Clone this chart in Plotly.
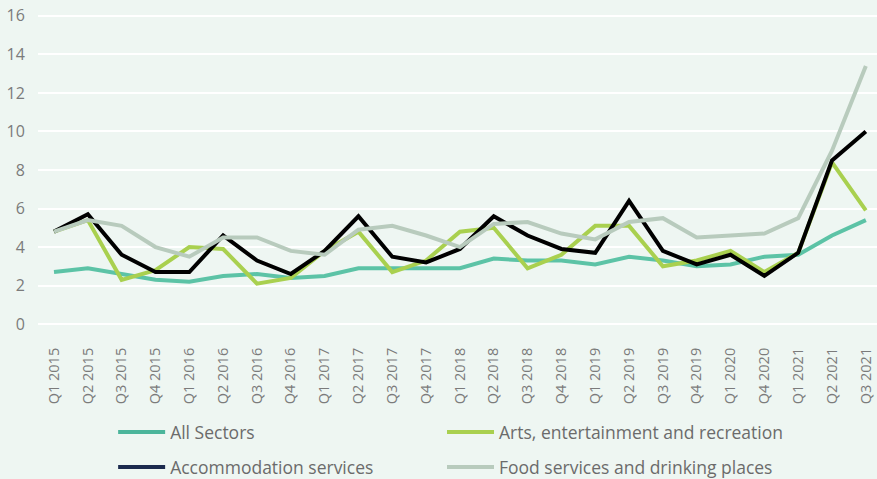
import plotly.graph_objects as go

categories = ["Q1 2015", "Q2 2015", "Q3 2015", "Q4 2015",
              "Q1 2016", "Q2 2016", "Q3 2016", "Q4 2016",
              "Q1 2017", "Q2 2017", "Q3 2017", "Q4 2017",
              "Q1 2018", "Q2 2018", "Q3 2018", "Q4 2018",
              "Q1 2019", "Q2 2019", "Q3 2019", "Q4 2019",
              "Q1 2020", "Q4 2020", "Q1 2021", "Q2 2021", "Q3 2021"]

all_sectors = [2.7, 2.9, 2.6, 2.3, 2.2, 2.5, 2.6, 2.4, 2.5, 2.9, 2.9, 2.9, 2.9,
               3.4, 3.3, 3.3, 3.1, 3.5, 3.3, 3.0, 3.1, 3.5, 3.6, 4.6, 5.4]
arts = [4.8, 5.4, 2.3, 2.8, 4.0, 3.9, 2.1, 2.4, 3.8, 4.8, 2.7, 3.3, 4.8,
        5.0, 2.9, 3.6, 5.1, 5.1, 3.0, 3.3, 3.8, 2.7, 3.7, 8.4, 5.9]
accommodation = [4.8, 5.7, 3.6, 2.7, 2.7, 4.6, 3.3, 2.6, 3.8, 5.6, 3.5, 3.2, 3.9,
                 5.6, 4.6, 3.9, 3.7, 6.4, 3.8, 3.1, 3.6, 2.5, 3.7, 8.5, 10.0]
food = [4.8, 5.4, 5.1, 4.0, 3.5, 4.5, 4.5, 3.8, 3.6, 4.9, 5.1, 4.6, 4.0,
        5.2, 5.3, 4.7, 4.4, 5.3, 5.5, 4.5, 4.6, 4.7, 5.5, 9.0, 13.4]

series = [
    ("All Sectors", all_sectors, "#5cc3a6", "#4bb59b"),
    ("Arts, entertainment and recreation", arts, "#a9d04f", "#a9d04f"),
    ("Accommodation services", accommodation, "#000000", "#1b2a4e"),
    ("Food services and drinking places", food, "#b8cbbd", "#b8cbbd"),
]
legend_ids = ["legend", "legend2", "legend3", "legend4"]
legend_pos = [(0.129, 0.098), (0.504, 0.098), (0.129, 0.025), (0.504, 0.025)]

fig = go.Figure()
for name, vals, col, legcol in series:
    fig.add_trace(go.Scatter(x=categories, y=vals, mode="lines", name=name,
                             line=dict(color=col, width=4), showlegend=False,
                             hoverinfo="skip"))
for (name, vals, col, legcol), lid in zip(series, legend_ids):
    fig.add_trace(go.Scatter(x=[None], y=[None], mode="lines", name=name,
                             line=dict(color=legcol, width=4), legend=lid))

bg = "#eef6f2"
legfont = dict(family="Open Sans, sans-serif", size=17.5, color="#6b6b6b")
legends = {}
for lid, (lx, ly) in zip(legend_ids, legend_pos):
    legends[lid] = dict(orientation="h", xref="container", yref="container",
                        x=lx, y=ly, xanchor="left", yanchor="middle",
                        itemwidth=47, font=legfont, bgcolor="rgba(0,0,0,0)")

fig.update_layout(
    width=877, height=479,
    margin=dict(l=38, r=0, t=13, b=152, autoexpand=False),
    paper_bgcolor=bg, plot_bgcolor=bg,
    font=dict(family="Open Sans, sans-serif", color="#7b7b7b"),
    xaxis=dict(type="category", range=[-0.473, 24.33], showgrid=False,
               showline=False, zeroline=False, tickangle=-90,
               tickfont=dict(size=14.5, color="#7b7b7b"),
               ticks="outside", ticklen=14, tickcolor="rgba(0,0,0,0)"),
    yaxis=dict(range=[-0.15, 16.15], dtick=2, tick0=0, showgrid=True,
               gridcolor="#ffffff", gridwidth=2, zeroline=False, showline=False,
               tickfont=dict(size=16, color="#7b7b7b"),
               ticks="outside", ticklen=9, tickcolor="rgba(0,0,0,0)"),
    **legends,
)

fig.write_html("out.html")
